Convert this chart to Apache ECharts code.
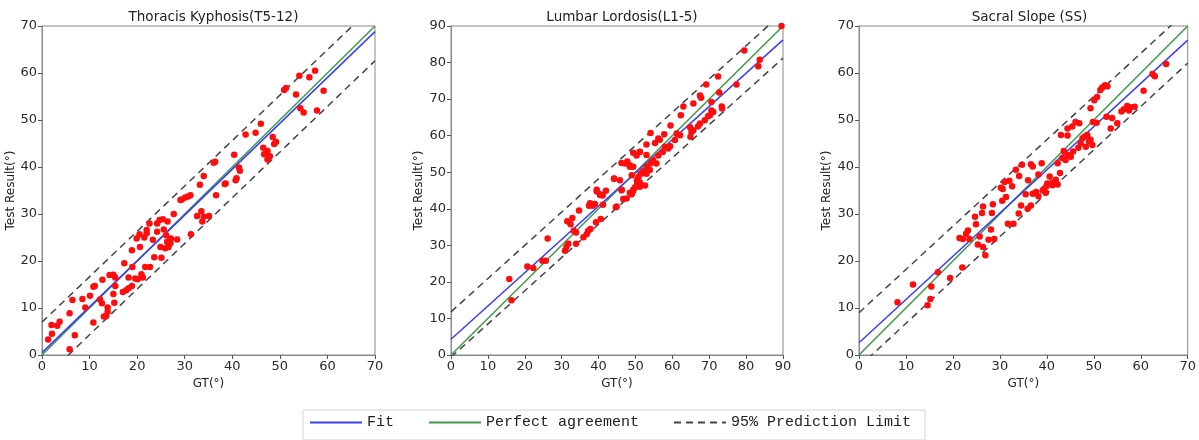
<!DOCTYPE html>
<html>
<head>
<meta charset="utf-8">
<script src="https://cdn.jsdelivr.net/npm/echarts@6/dist/echarts.min.js"></script>
<style>
  html, body { margin: 0; padding: 0; background: #fff; }
  #chart { width: 1199px; height: 440px; }
</style>
</head>
<body>
<div id="chart"></div>
<script>
// panel titles and axis limits
const panelTitles = ['Thoracis Kyphosis(T5-12)', 'Lumbar Lordosis(L1-5)', 'Sacral Slope (SS)'];
const panelMax = [70, 90, 70];

// Thoracis Kyphosis: [GT, Test Result]
const tkPoints = [
  [1.3, 3.3], [2, 6.4], [2.1, 4.5], [3.2, 6.2], [3.7, 7.1], [5.8, 8.9], [6.4, 11.7], [5.8, 1.2], [6.9, 4.2],
  [8.5, 11.9], [9.1, 10.1], [10.1, 12.6], [10.8, 14.5], [11.1, 14.7], [10.8, 6.9], [12.2, 11.8], [12.6, 11],
  [12.7, 16], [13.5, 8.3], [13.8, 10.1], [13.8, 9.2], [13, 8.2], [14.2, 17], [15, 17.1], [15.4, 16.5],
  [15, 13], [15.4, 14.7], [15.2, 11.1], [17.3, 19.5], [17, 13.4], [17.7, 13.8], [18.2, 14.2], [18.2, 16.5],
  [18.9, 22.3], [18.9, 14.7], [19, 18.7], [19.6, 16.3], [20.1, 16.1], [19.9, 24.8], [20.5, 25.7], [20.6, 23],
  [20.9, 17.2], [21.2, 16.5], [21.5, 25], [21.7, 18.7], [22, 25.9], [22, 26.6], [22.6, 28], [22.7, 18.7],
  [23.3, 24.5], [23.6, 20.8], [24.2, 26.2], [24.2, 28], [24.7, 28.7], [24.9, 23], [25.1, 20.7], [25.4, 28.9],
  [25.6, 26.7], [25.9, 22.7], [26.1, 25.5], [26.4, 28.4], [26.3, 24.1], [26.6, 23], [27, 23.8], [27.1, 24.8],
  [27.7, 30], [28.4, 24.6], [29.1, 33], [29.4, 33.1], [30.1, 33.5], [30.7, 33.7], [31.2, 34], [31.3, 25.7],
  [32.6, 29.6], [33.2, 36.2], [33.5, 30.6], [34, 29.4], [33.7, 28.4], [35.1, 29.6], [36.6, 34], [38.4, 36.4],
  [40.7, 37.2], [34, 38.1], [36.1, 40.9], [36.4, 41.1], [38.6, 36.5], [40.4, 42.6], [40.9, 37.6], [41.4, 39.9],
  [41.6, 39.2], [42.8, 46.9], [44.9, 47.3], [46, 49.2], [46.5, 44.1], [46.7, 42.7], [47.4, 43.4], [47.9, 42.3],
  [47.4, 41.6], [48.5, 46.4], [48.8, 44.9], [49.2, 45.3], [50.9, 56.4], [51.3, 56.8], [53.4, 55.4], [54.1, 59.4],
  [54.3, 52.5], [55, 51.6], [56.2, 59.1], [57.4, 60.5], [57.8, 52], [59.2, 56.2]
];
const tkFit = [[0, 0.5], [70, 68.8]];
const tkUpper = [[0, 7.0], [70, 74.6]];
const tkLower = [[0, -5.4], [70, 62.6]];

// Lumbar Lordosis
const llPoints = [
  [15.8, 20.8], [16.4, 15], [20.7, 24.2], [22.3, 23.8], [24.8, 25.8], [25.7, 25.8], [26.2, 31.9], [30.9, 28.5],
  [31.3, 29.6], [31.8, 30.4], [31.5, 36.6], [32.4, 35.8], [32.9, 37.5], [33.3, 34], [33.9, 33.5], [33.9, 30.4],
  [34.7, 39.5], [35.9, 32.2], [36.8, 33.1], [37.2, 34], [37.4, 40.8], [37.8, 34.5], [38.4, 40.8], [39.3, 36.3],
  [39, 41.3], [39.5, 44.7], [40.4, 44], [40.6, 37.2], [41.1, 43.6], [42, 44.9], [44.7, 40.4], [46.2, 45.1],
  [46.7, 42.7], [49, 44], [49.4, 44.9], [49.9, 45.9], [50.5, 46.8], [51.2, 47.2], [79.5, 83.3], [83.3, 79],
  [83.7, 80.8], [89.6, 90], [77.4, 74], [72.4, 76.2], [69.2, 74], [72.7, 71.8], [73.4, 68], [73.5, 67.4],
  [70.6, 69.2], [67.5, 71], [67.8, 70.4], [65.7, 68.8], [63, 68], [62.3, 65.6], [59.5, 62.8], [57.8, 60.4],
  [56.2, 59.2], [56.6, 58.9], [55.3, 58], [54.1, 60.7], [53, 57.6], [51.2, 55.5], [50.3, 54.6], [49.4, 55.3],
  [48.5, 51.9], [47.2, 52.4], [46.2, 52.5], [45.8, 47.8], [44.2, 48.3], [49.4, 51.5], [64.8, 62.3], [65.2, 61],
  [67.5, 63.3], [68.8, 64.2], [70.2, 65.6], [70.6, 66.9], [71.1, 66.5], [69.7, 65.3], [67, 62.6], [65.7, 61.5],
  [64.9, 59.7], [62.1, 60.1], [61.2, 60.6], [60.7, 58.8], [59.4, 57.1], [58.9, 56.5], [58, 57], [57.4, 55.5],
  [56.2, 54.6], [54.8, 53.3], [54.1, 52.4], [53, 51.4], [52.1, 50.3], [51.4, 49.6], [50.8, 48.7], [53, 49.6],
  [52.6, 46.4], [50.5, 47.1], [48.5, 44.4], [47.6, 42.8], [47.8, 52.9], [48.5, 51.5], [51.2, 55.6], [53, 54.7],
  [44.2, 48.2], [39.5, 45.2], [40.4, 43.8], [37.7, 41.5], [49, 49.2], [50.4, 47.8], [51.2, 46], [52.1, 49.7],
  [53.9, 50.6], [55.7, 52.4], [49.4, 45.2], [46.3, 45.2], [44.9, 40.6], [41.2, 41.1]
];
const llFit = [[0, 4.3], [90, 86.2]];
const llUpper = [[0, 11.8], [90, 93.7]];
const llLower = [[0, -0.6], [90, 81.2]];

// Sacral Slope
const ssPoints = [
  [8.2, 11.2], [11.5, 15], [15.4, 14.6], [15.2, 11.9], [14.6, 10.6], [16.8, 17.6], [19.4, 16.4], [22, 18.6],
  [21.4, 24.9], [22.1, 24.7], [22.8, 25.8], [23.2, 26.5], [23.5, 24.7], [24.7, 29.4], [24.9, 27.8], [25.3, 23.5],
  [25.7, 25.2], [26.2, 30.2], [26.4, 31.6], [26.4, 23], [26.9, 21.2], [27.6, 24.5], [28.1, 26.7], [28.3, 30.2],
  [28.5, 32.1], [28.8, 24.7], [30.5, 32.8], [30.2, 35.6], [31.3, 33.6], [31.7, 27.9], [32.9, 27.9], [34, 30.1],
  [34.5, 31.8], [35.5, 34.2], [35.9, 31.1], [36.6, 31.8], [37, 34.3], [37.7, 34.7], [38.2, 33.8], [39.1, 35],
  [39.8, 34.5], [40.1, 36.5], [41.2, 36.1], [41.9, 36.6], [42.3, 36.3], [30.6, 35.3], [32, 37.1], [34.1, 38.1],
  [34.7, 40.5], [36.6, 40.6], [37, 40.1], [38.9, 40.8], [39.4, 35.3], [39.9, 35.9], [41.2, 36.7], [41.9, 37.3],
  [42.3, 40.8], [42.8, 38.7], [43.3, 41.9], [44, 41.5], [44.4, 42.6], [45.1, 42.2], [45.6, 43.3], [46.7, 44.1],
  [47.2, 45], [47.6, 46.1], [48.3, 44.3], [48.6, 46.8], [49, 45.4], [49.3, 45.8], [49.7, 44.7], [48.1, 46.5],
  [43, 46.8], [44.4, 46.7], [44.4, 48.2], [45.4, 48.6], [46.1, 49.6], [46.9, 49.3], [49.3, 52.5], [49.8, 49.6],
  [50.6, 49.4], [50.1, 54.2], [50.7, 54.9], [51.4, 56.4], [51.8, 56.9], [52.4, 57.4], [52.9, 57.2], [52.7, 50.7],
  [53.6, 48.2], [53.9, 50.4], [55, 49.3], [55.9, 51.8], [56.4, 52.3], [57.1, 53], [57.5, 52], [57.8, 52.7],
  [58.7, 52.8], [60.6, 56.2], [62.5, 59.8], [63, 59.3], [65.4, 61.9], [32.6, 35.9], [33.4, 39.4], [31.0, 36.8],
  [36.0, 37.2], [38.2, 38.4], [40.6, 38.0], [43.6, 43.4]
];
const ssFit = [[0, 2.6], [70, 67.0]];
const ssUpper = [[0, 9.0], [70, 73.4]];
const ssLower = [[0, -2.5], [70, 62.1]];

const allPoints = [tkPoints, llPoints, ssPoints];
const allFit = [tkFit, llFit, ssFit];
const allUpper = [tkUpper, llUpper, ssUpper];
const allLower = [tkLower, llLower, ssLower];

const gridPos = [
  {left: 42, width: 333},
  {left: 451, width: 332},
  {left: 859, width: 331}
];
const yNameGap = [22, 26, 26];

const blue = '#3d3df5';
const green = '#3a9a4a';
const dash = '#444';
const font = 'DejaVu Sans';

var chart = echarts.init(document.getElementById('chart'));

var grids = [], xAxes = [], yAxes = [], titles = [], series = [];
for (let i = 0; i < 3; i++) {
    const m = panelMax[i];
    grids.push({
        left: gridPos[i].left, width: gridPos[i].width, top: 26, height: 329,
        show: true, borderColor: '#8a8a8a', borderWidth: 1, backgroundColor: '#fff'
    });
    titles.push({
        text: panelTitles[i],
        left: gridPos[i].left + gridPos[i].width / 2,
        textAlign: 'center',
        top: 5,
        textStyle: {fontFamily: font, fontSize: 13.5, fontWeight: 'normal', color: '#222'}
    });
    const axisCommon = {
        gridIndex: i, type: 'value', min: 0, max: m, interval: 10,
        splitLine: {show: false},
        axisLine: {show: true, onZero: false, lineStyle: {color: '#8a8a8a'}},
        axisTick: {show: true, inside: false, length: 4, lineStyle: {color: '#555'}},
        axisLabel: {fontFamily: font, fontSize: 13, color: '#2a2a2a', margin: 5},
        nameLocation: 'middle',
        nameTextStyle: {fontFamily: font, fontSize: 12, color: '#222'}
    };
    xAxes.push(Object.assign({}, axisCommon, {name: 'GT(°)', nameGap: 20}));
    yAxes.push(Object.assign({}, axisCommon, {name: 'Test Result(°)', nameGap: yNameGap[i]}));

    const lineCommon = {
        type: 'line', xAxisIndex: i, yAxisIndex: i, symbol: 'none', symbolSize: 0,
        silent: true, animation: false, clip: true
    };
    series.push(Object.assign({}, lineCommon, {
        name: 'Perfect agreement', data: [[0, 0], [m, m]],
        lineStyle: {color: green, width: 1.5}, itemStyle: {color: green}, z: 2
    }));
    series.push(Object.assign({}, lineCommon, {
        name: 'Fit', data: allFit[i],
        lineStyle: {color: blue, width: 1.5}, itemStyle: {color: blue}, z: 3
    }));
    series.push(Object.assign({}, lineCommon, {
        name: '95% Prediction Limit', data: allUpper[i],
        lineStyle: {color: dash, width: 1.5, type: [7, 5]}, itemStyle: {color: dash}, z: 2
    }));
    series.push(Object.assign({}, lineCommon, {
        name: '95% Prediction Limit', data: allLower[i],
        lineStyle: {color: dash, width: 1.5, type: [7, 5]}, itemStyle: {color: dash}, z: 2
    }));
    series.push({
        type: 'scatter', xAxisIndex: i, yAxisIndex: i,
        data: allPoints[i], symbol: 'circle', symbolSize: 6.5,
        itemStyle: {color: '#ff0d0d', opacity: 1}, z: 4, animation: false
    });
}

const option = {
    backgroundColor: '#fff',
    title: titles,
    grid: grids,
    xAxis: xAxes,
    yAxis: yAxes,
    legend: {
        data: ['Fit', 'Perfect agreement', '95% Prediction Limit'],
        left: 303, top: 410,
        itemWidth: 52, itemHeight: 10, itemGap: 34,
        padding: [5, 14, 10, 6],
        borderColor: '#d5d5d5', borderWidth: 1,
        selectedMode: false,
        itemStyle: {opacity: 0},
        textStyle: {fontFamily: 'Liberation Mono', fontSize: 15, color: '#222'}
    },
    series: series
};
chart.setOption(option);
window.addEventListener('resize', function () {
    chart.resize();
});
</script>
</body>
</html>
